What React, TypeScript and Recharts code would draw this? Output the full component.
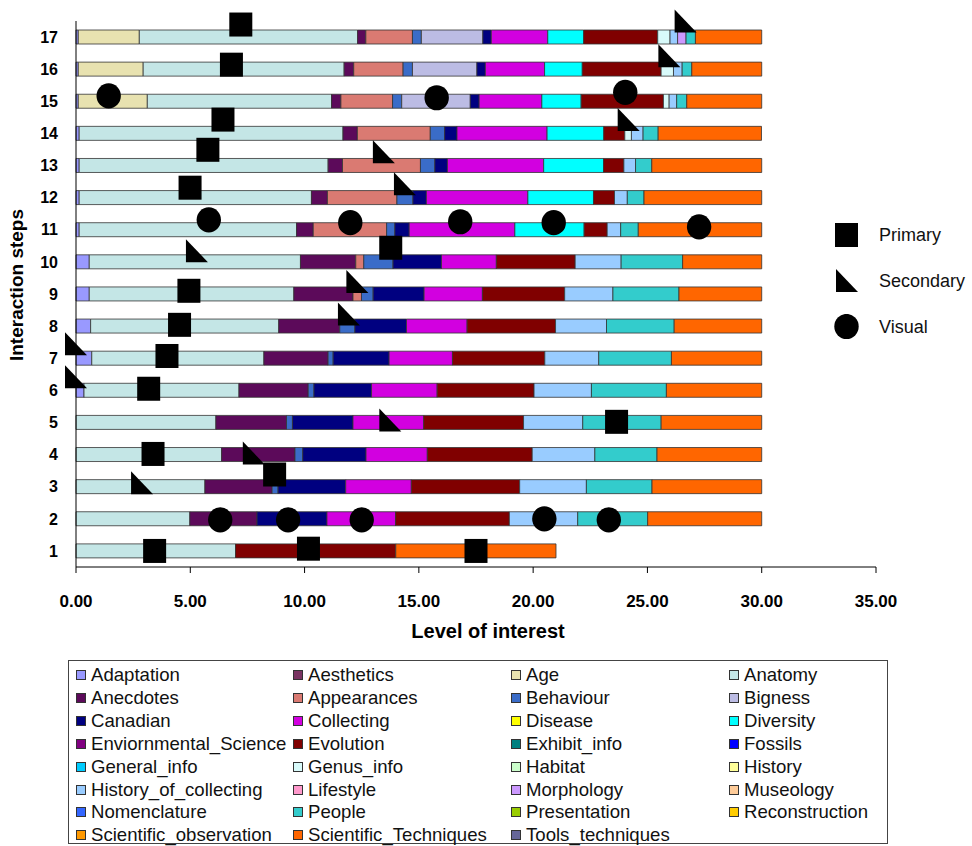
import { Bar, BarChart, Scatter, ScatterChart, XAxis, YAxis } from 'recharts';

// interaction steps, bottom to top
const steps = ['1', '2', '3', '4', '5', '6', '7', '8', '9', '10', '11', '12', '13', '14', '15', '16', '17'];

// level of interest per topic, one value per step (1..17)
const adaptation = [0, 0, 0, 0, 0, 0.35, 0.69, 0.64, 0.58, 0.58, 0.14, 0.14, 0.14, 0.14, 0.1, 0.1, 0.1];
const age = [0, 0, 0, 0, 0, 0, 0, 0, 0, 0, 0, 0, 0, 0, 3.02, 2.84, 2.67];
const anatomy = [6.98, 4.98, 5.64, 6.37, 6.12, 6.78, 7.53, 8.23, 8.95, 9.24, 9.51, 10.16, 10.89, 11.54, 8.06, 8.79, 9.55];
const anecdotes = [0, 2.94, 2.94, 3.21, 3.09, 3.03, 2.81, 2.67, 2.59, 2.42, 0.73, 0.7, 0.63, 0.63, 0.41, 0.42, 0.36];
const appearances = [0, 0, 0, 0, 0, 0, 0, 0, 0.37, 0.35, 3.21, 3.04, 3.41, 3.19, 2.26, 2.16, 2.04];
const behaviour = [0, 0, 0.26, 0.34, 0.26, 0.25, 0.22, 0.66, 0.51, 1.28, 0.36, 0.7, 0.63, 0.63, 0.4, 0.41, 0.39];
const bigness = [0, 0, 0, 0, 0, 0, 0, 0, 0, 0, 0, 0, 0, 0, 3.0, 2.82, 2.69];
const canadian = [0, 3.06, 2.96, 2.77, 2.65, 2.52, 2.45, 2.26, 2.23, 2.12, 0.63, 0.59, 0.55, 0.54, 0.39, 0.37, 0.37];
const collecting = [0, 3.0, 2.87, 2.68, 3.09, 2.87, 2.77, 2.65, 2.55, 2.4, 4.62, 4.44, 4.21, 3.94, 2.74, 2.59, 2.47];
const diversity = [0, 0, 0, 0, 0, 0, 0, 0, 0, 0, 3.03, 2.87, 2.62, 2.48, 1.72, 1.65, 1.57];
const evolution = [7.01, 4.98, 4.74, 4.59, 4.37, 4.24, 4.04, 3.87, 3.6, 3.45, 1.01, 0.92, 0.89, 0.92, 3.6, 3.45, 3.24];
const genusInfo = [0, 0, 0, 0, 0, 0, 0, 0, 0, 0, 0, 0, 0, 0.29, 0.25, 0.54, 0.54];
const historyOfCollecting = [0, 2.99, 2.92, 2.74, 2.59, 2.51, 2.36, 2.23, 2.11, 2.01, 0.59, 0.56, 0.51, 0.51, 0.33, 0.38, 0.33];
const morphology = [0, 0, 0, 0, 0, 0, 0, 0, 0, 0, 0, 0, 0, 0, 0, 0, 0.37];
const people = [0, 3.06, 2.87, 2.72, 3.43, 3.28, 3.18, 2.96, 2.89, 2.69, 0.77, 0.73, 0.71, 0.66, 0.44, 0.42, 0.41];
const scientificTechniques = [7.01, 4.99, 4.8, 4.58, 4.4, 4.17, 3.95, 3.83, 3.62, 3.46, 5.4, 5.15, 4.81, 4.52, 3.28, 3.06, 2.9];

// marker positions (level of interest, step)
const primaryX = [7.21, 6.8, 6.43, 5.77, 4.99, 13.77, 4.94, 4.53, 3.98, 3.18, 23.65, 3.37, 8.69, 3.44, 10.17, 17.5];
const primaryY = [17.39, 16.14, 14.43, 13.49, 12.31, 10.44, 9.1, 8.04, 7.07, 6.05, 5.02, 4.02, 3.38, 1.0, 1.07, 1.0];
const secondaryX = [26.67, 25.96, 24.18, 13.47, 14.39, 5.29, 12.31, 11.94, 0, 0, 13.75, 7.78, 2.89];
const secondaryY = [17.5, 16.42, 14.43, 13.43, 12.43, 10.35, 9.39, 8.38, 7.45, 6.42, 5.08, 4.05, 3.12];
const visualX = [1.43, 15.78, 24.03, 5.81, 12.0, 16.81, 20.9, 27.26, 6.31, 9.28, 12.5, 20.49, 23.31];
const visualY = [15.17, 15.11, 15.28, 11.31, 11.22, 11.25, 11.22, 11.09, 1.97, 1.97, 1.97, 2.0, 1.97];

const xTicks = [0, 5, 10, 15, 20, 25, 30, 35];

const legendNames = [
  'Adaptation', 'Aesthetics', 'Age', 'Anatomy',
  'Anecdotes', 'Appearances', 'Behaviour', 'Bigness',
  'Canadian', 'Collecting', 'Disease', 'Diversity',
  'Enviornmental_Science', 'Evolution', 'Exhibit_info', 'Fossils',
  'General_info', 'Genus_info', 'Habitat', 'History',
  'History_of_collecting', 'Lifestyle', 'Morphology', 'Museology',
  'Nomenclature', 'People', 'Presentation', 'Reconstruction',
  'Scientific_observation', 'Scientific_Techniques', 'Tools_techniques'
];

const colors: Record<string, string> = {
  Adaptation: '#9999ff',
  Aesthetics: '#7a3462',
  Age: '#e8e2b0',
  Anatomy: '#c4e6e6',
  Anecdotes: '#5c0a5a',
  Appearances: '#da7a72',
  Behaviour: '#3a6cc8',
  Bigness: '#bcbce4',
  Canadian: '#000080',
  Collecting: '#d200e0',
  Disease: '#ffff00',
  Diversity: '#00ffff',
  Enviornmental_Science: '#800080',
  Evolution: '#800000',
  Exhibit_info: '#008080',
  Fossils: '#0000ff',
  General_info: '#00ccff',
  Genus_info: '#d8fafa',
  Habitat: '#ccffcc',
  History: '#ffff99',
  History_of_collecting: '#99ccff',
  Lifestyle: '#ff99cc',
  Morphology: '#cc99ff',
  Museology: '#ffcc99',
  Nomenclature: '#3366ff',
  People: '#33cccc',
  Presentation: '#99cc00',
  Reconstruction: '#ffcc00',
  Scientific_observation: '#ff9900',
  Scientific_Techniques: '#ff6600',
  Tools_techniques: '#666699'
};

const series: [string, number[]][] = [
  ['Adaptation', adaptation],
  ['Age', age],
  ['Anatomy', anatomy],
  ['Anecdotes', anecdotes],
  ['Appearances', appearances],
  ['Behaviour', behaviour],
  ['Bigness', bigness],
  ['Canadian', canadian],
  ['Collecting', collecting],
  ['Diversity', diversity],
  ['Evolution', evolution],
  ['Genus_info', genusInfo],
  ['History_of_collecting', historyOfCollecting],
  ['Morphology', morphology],
  ['People', people],
  ['Scientific_Techniques', scientificTechniques]
];

const table = steps.map((step, i) => {
  const row: Record<string, string | number> = { step };
  series.forEach(([name, values]) => {
    row[name] = values[i];
  });
  return row;
});

const toPoints = (xs: number[], ys: number[]) => xs.map((x, i) => ({ x, y: ys[i] }));

const FONT = '"Liberation Sans", Arial, sans-serif';

const SquareShape = (p: any) => (
  <rect x={p.cx - 11.5} y={p.cy - 12} width={23} height={24} fill="#000" />
);

const TriangleShape = (p: any) => (
  <path
    d={`M${p.cx - 11},${p.cy - 11.5} L${p.cx + 11},${p.cy + 11.5} L${p.cx - 11},${p.cy + 11.5} Z`}
    fill="#000"
  />
);

const CircleShape = (p: any) => (
  <ellipse cx={p.cx} cy={p.cy} rx={12.2} ry={12.6} fill="#000" />
);

function MarkerLegend() {
  const items = [
    { label: 'Primary', shape: <rect x={1} y={1} width={23} height={24} fill="#000" /> },
    { label: 'Secondary', shape: <path d="M2,1 L24,24 L2,24 Z" fill="#000" /> },
    { label: 'Visual', shape: <ellipse cx={12.5} cy={12.5} rx={12.2} ry={12.6} fill="#000" /> }
  ];
  return (
    <div style={{ position: 'absolute', left: 834, top: 212 }}>
      {items.map((it) => (
        <div key={it.label} style={{ display: 'flex', alignItems: 'center', height: 46 }}>
          <svg width={26} height={26}>{it.shape}</svg>
          <span style={{ marginLeft: 19, fontSize: 18, fontFamily: FONT, color: '#111' }}>{it.label}</span>
        </div>
      ))}
    </div>
  );
}

function TopicLegend() {
  const colLeft = [75, 292, 510, 728];
  return (
    <div
      style={{
        position: 'absolute',
        left: 68,
        top: 660,
        width: 820,
        height: 184,
        border: '1px solid #444',
        boxSizing: 'border-box'
      }}
    >
      {legendNames.map((name, i) => {
        const col = i % 4;
        const row = Math.floor(i / 4);
        return (
          <div
            key={name}
            style={{
              position: 'absolute',
              left: colLeft[col] - 68,
              top: 3 + row * 22.9,
              height: 22,
              display: 'flex',
              alignItems: 'center',
              whiteSpace: 'nowrap'
            }}
          >
            <span
              style={{
                width: 8,
                height: 8,
                background: colors[name],
                border: '1px solid #333',
                display: 'inline-block'
              }}
            />
            <span style={{ marginLeft: 5, fontSize: 18.6, fontFamily: FONT, color: '#111' }}>{name}</span>
          </div>
        );
      })}
    </div>
  );
}

export default function App() {
  return (
    <div
      style={{
        position: 'absolute',
        left: 0,
        top: 0,
        width: 972,
        height: 846,
        background: '#fff',
        fontFamily: FONT,
        overflow: 'hidden'
      }}
    >
      <BarChart
        data={table}
        height={846}
        layout="vertical"
        margin={{ top: 21, right: 96, bottom: 219, left: 0 }}
        style={{ position: 'absolute', left: 0, top: 0 }}
        width={972}
      >
        <XAxis
          axisLine={{ stroke: '#000' }}
          domain={[0, 35]}
          height={60}
          tick={{ fill: '#000', fontSize: 17, fontWeight: 'bold', fontFamily: FONT }}
          tickFormatter={(v: number) => v.toFixed(2)}
          tickLine={{ stroke: '#000' }}
          tickMargin={22}
          tickSize={6}
          ticks={xTicks}
          type="number"
        />
        <YAxis
          reversed
          axisLine={{ stroke: '#000' }}
          dataKey="step"
          interval={0}
          tick={{ fill: '#000', fontSize: 16, fontWeight: 'bold', fontFamily: FONT }}
          tickLine={false}
          tickMargin={18}
          tickSize={0}
          type="category"
          width={76}
        />
        {series.map(([name]) => (
          <Bar
            key={name}
            barSize={14}
            dataKey={name}
            fill={colors[name]}
            isAnimationActive={false}
            stackId="topics"
            stroke="#333"
            strokeWidth={0.8}
          />
        ))}
      </BarChart>

      <ScatterChart
        height={846}
        margin={{ top: 21, right: 96, bottom: 279, left: 76 }}
        style={{ position: 'absolute', left: 0, top: 0 }}
        width={972}
      >
        <XAxis hide dataKey="x" domain={[0, 35]} type="number" />
        <YAxis hide dataKey="y" domain={[0.5, 17.5]} type="number" />
        <Scatter data={toPoints(primaryX, primaryY)} isAnimationActive={false} shape={SquareShape} />
        <Scatter data={toPoints(secondaryX, secondaryY)} isAnimationActive={false} shape={TriangleShape} />
        <Scatter data={toPoints(visualX, visualY)} isAnimationActive={false} shape={CircleShape} />
      </ScatterChart>

      <div
        style={{
          position: 'absolute',
          left: 17,
          top: 285,
          transform: 'translate(-50%, -50%) rotate(-90deg)',
          fontSize: 19,
          fontWeight: 'bold',
          whiteSpace: 'nowrap'
        }}
      >
        Interaction steps
      </div>
      <div
        style={{
          position: 'absolute',
          left: 488,
          top: 631,
          transform: 'translate(-50%, -50%)',
          fontSize: 20,
          fontWeight: 'bold',
          whiteSpace: 'nowrap'
        }}
      >
        Level of interest
      </div>

      <MarkerLegend />
      <TopicLegend />
    </div>
  );
}
